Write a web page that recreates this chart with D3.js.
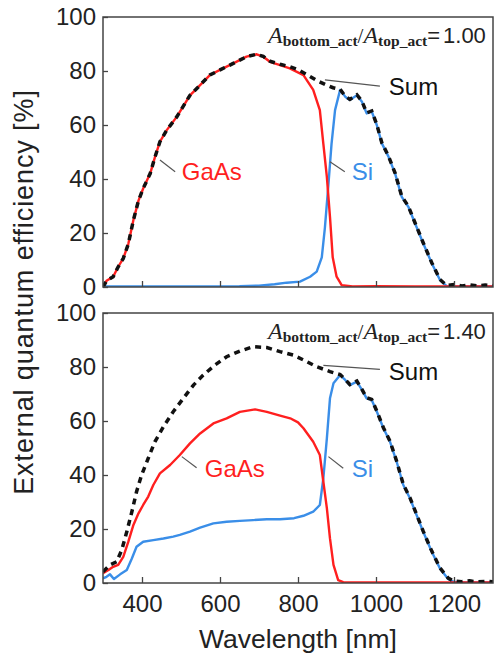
<!DOCTYPE html>
<html>
<head>
<meta charset="utf-8">
<script src="https://cdn.jsdelivr.net/npm/d3@7"></script>
<style>
  body { margin: 0; background: #fff; }
  svg { display: block; font-family: "Liberation Sans", Arial, sans-serif; }
</style>
</head>
<body>
<div id="chart"></div>
<script>
const width = 498, height = 658;
const margin = { left: 103, right: 5 };
const panelTop = [17, 313], panelHeight = 270;

const wavelengthDomain = [300, 1300];
const eqeDomain = [0, 100];
const wavelengthTicks = [400, 600, 800, 1000, 1200];
const eqeTicks = [0, 20, 40, 60, 80, 100];
const areaRatios = ["1.00", "1.40"];

// [wavelength nm, EQE %]
const gaasTop = [[300,0],[309,2.3],[326,3.8],[339,7.5],[352,10.6],[365,16],[378,24.8],[391,32],[403,36.5],[421,42],[433,48],[446,53.8],[463,58],[489,63],[523,71],[549,74.8],[574,78.5],[600,80.4],[634,82.8],[668,85.3],[694,86.2],[711,85.3],[728,83.4],[754,82.2],[779,81],[814,78.5],[839,73],[856,65.5],[865,53],[874,40.8],[882,26],[889,11],[899,3.8],[912,0.7],[940,0.2],[1000,0.3],[1100,0.2],[1300,0.2]];
const siTop = [[300,0.2],[500,0.2],[650,0.3],[700,0.5],[740,1],[771,1.6],[805,2],[831,3.8],[848,5.7],[861,11],[869,22],[878,38],[886,53],[895,65.5],[908,73],[921,70.5],[933,69.3],[951,71],[964,68.6],[976,64.3],[989,65],[1002,60],[1015,53.2],[1032,48.3],[1049,42],[1066,33.4],[1083,29.7],[1100,23.6],[1121,16.2],[1143,8.8],[1164,2.6],[1181,0.3],[1220,0.2],[1300,0.2]];
const sumTop = [[300,0],[309,2.3],[326,3.8],[339,7.5],[352,10.6],[365,16],[378,24.8],[391,32],[403,36.5],[421,42],[433,48],[446,53.8],[463,58],[489,63],[523,71],[549,74.8],[574,78.5],[600,80.4],[634,82.8],[668,85.3],[694,86.2],[711,85.4],[728,83.6],[754,82.5],[779,81.6],[800,80.5],[825,78.5],[848,76.5],[870,75],[890,73.8],[908,73.2],[921,70.7],[933,69.5],[951,71.2],[964,68.8],[976,64.5],[989,65.2],[1002,60.2],[1015,53.4],[1032,48.5],[1049,42.2],[1066,33.6],[1083,29.9],[1100,23.8],[1121,16.4],[1143,9],[1164,2.8],[1181,0.6],[1200,0.9],[1220,0.4],[1240,0.8],[1260,0.4],[1280,0.7],[1300,0.5]];

const gaasBottom = [[300,3.6],[314,4.8],[326,6],[339,6.7],[352,9.7],[365,15.3],[378,21.5],[391,25.8],[403,28.9],[416,32],[429,36.3],[446,40.6],[472,43.7],[497,47.4],[523,51.7],[549,55.4],[583,59.1],[617,61],[651,63.4],[690,64.3],[720,63.4],[754,62],[780,61],[800,59.5],[814,57.3],[839,52.3],[856,47.4],[865,37.5],[874,27.7],[882,16.5],[891,6.7],[903,1.1],[916,0.3],[1000,0.2],[1300,0.2]];
const siBottom = [[300,1.7],[309,2.3],[318,3.2],[328,1.5],[344,3.2],[361,4.8],[374,9.1],[386,13.4],[403,15.3],[429,15.9],[455,16.5],[480,17.2],[497,17.8],[523,19],[549,20.5],[583,22.1],[617,22.7],[651,23],[685,23.3],[720,23.6],[754,23.6],[790,24],[814,24.9],[839,26.4],[856,28.9],[865,38.8],[874,53.6],[882,68.4],[891,74],[908,77],[921,75.2],[933,73.3],[951,74.6],[964,71.5],[976,68.4],[989,67.8],[1002,63.5],[1019,57.3],[1036,52.3],[1053,44.9],[1070,36.3],[1087,31.4],[1104,25.2],[1121,19],[1143,11.6],[1164,5.4],[1185,1.5],[1198,0.5],[1220,0.2],[1300,0.2]];
const sumBottom = [[300,4.2],[318,6.7],[335,7.9],[348,12.2],[361,19],[374,26.4],[386,33.8],[399,40],[416,46.2],[433,52.3],[455,57.9],[480,63.4],[506,68.4],[532,73.3],[557,77],[587,80.7],[617,83.8],[651,85.9],[685,87.5],[720,87.2],[754,85.7],[788,84.4],[814,82.6],[848,80.1],[882,78.3],[908,77.2],[921,75.4],[933,73.5],[951,74.8],[964,71.7],[976,68.6],[989,68],[1002,63.7],[1019,57.5],[1036,52.5],[1053,45.1],[1070,36.5],[1087,31.6],[1104,25.4],[1121,19.2],[1143,11.8],[1164,5.6],[1185,1.8],[1198,0.8],[1220,0.5],[1240,0.8],[1260,0.4],[1280,0.6],[1300,0.5]];

const red = "#ff1f1f", blue = "#3a8ee8", frame = "#444";

// label text, colour, text anchor and leader line, all in data units
const panels = [
  { gaas: gaasTop, si: siTop, sum: sumTop, ratio: areaRatios[0],
    labels: [
      { text: "GaAs", color: red, at: [502, 39.6], leader: [[446, 47], [485, 42.7]] },
      { text: "Si", color: blue, at: [938, 39.6], leader: [[882, 46.4], [920, 42.7]] },
      { text: "Sum", color: "#111", at: [1033, 71.1], leader: [[869, 76.7], [1010, 74.4]] }
    ] },
  { gaas: gaasBottom, si: siBottom, sum: sumBottom, ratio: areaRatios[1],
    labels: [
      { text: "GaAs", color: red, at: [561, 39.3], leader: [[502, 46.8], [540, 42.7]] },
      { text: "Si", color: blue, at: [938, 39.3], leader: [[878, 46.8], [916, 42.5]] },
      { text: "Sum", color: "#111", at: [1033, 75.2], leader: [[865, 80.6], [1010, 79.1]] }
    ] }
];

const svg = d3.select("#chart").append("svg")
  .attr("width", width)
  .attr("height", height);

const x = d3.scaleLinear().domain(wavelengthDomain).range([margin.left, width - margin.right]);

panels.forEach((p, i) => {
  const top = panelTop[i];
  const y = d3.scaleLinear().domain(eqeDomain).range([top + panelHeight, top]);
  const g = svg.append("g");

  g.append("clipPath").attr("id", "clip" + i)
    .append("rect")
    .attr("x", x.range()[0]).attr("y", top)
    .attr("width", x.range()[1] - x.range()[0]).attr("height", panelHeight);

  const line = d3.line().x(d => x(d[0])).y(d => y(d[1]));
  const curves = g.append("g").attr("clip-path", `url(#clip${i})`);

  curves.append("path").datum(p.si)
    .attr("d", line).attr("fill", "none")
    .attr("stroke", blue).attr("stroke-width", 2.4).attr("stroke-linejoin", "round");
  curves.append("path").datum(p.gaas)
    .attr("d", line).attr("fill", "none")
    .attr("stroke", red).attr("stroke-width", 2.4).attr("stroke-linejoin", "round");
  curves.append("path").datum(p.sum)
    .attr("d", line).attr("fill", "none")
    .attr("stroke", "#111").attr("stroke-width", 3.5)
    .attr("stroke-dasharray", "6,5");

  // ticks point inward
  const yAxis = g.append("g")
    .attr("transform", `translate(${x.range()[0]},0)`)
    .call(d3.axisLeft(y).tickValues(eqeTicks).tickSizeInner(-5).tickSizeOuter(0).tickPadding(7));
  const xAxis = g.append("g")
    .attr("transform", `translate(0,${top + panelHeight})`)
    .call(d3.axisBottom(x).tickValues(wavelengthTicks).tickFormat(d3.format("d"))
      .tickSizeInner(-6).tickSizeOuter(0).tickPadding(12));
  if (i === 0) xAxis.selectAll("text").remove();

  [xAxis, yAxis].forEach(a => {
    a.select(".domain").remove();
    a.selectAll("line").attr("stroke", frame).attr("stroke-width", 1.3);
    a.selectAll("text").attr("font-size", 24).attr("fill", "#222")
      .attr("font-family", "Liberation Sans, Arial, sans-serif");
  });

  g.append("rect")
    .attr("x", x.range()[0]).attr("y", top)
    .attr("width", x.range()[1] - x.range()[0]).attr("height", panelHeight)
    .attr("fill", "none").attr("stroke", frame).attr("stroke-width", 1.5);

  // area ratio note
  const note = g.append("text")
    .attr("x", 268).attr("y", top + 26)
    .attr("fill", "#222");
  note.append("tspan").text("A")
    .attr("font-family", "Liberation Serif, serif").attr("font-style", "italic").attr("font-size", 24);
  note.append("tspan").text("bottom_act").attr("dy", 3)
    .attr("font-family", "Liberation Serif, serif").attr("font-weight", "bold").attr("font-size", 15.5);
  note.append("tspan").text("/").attr("dy", -3)
    .attr("font-family", "Liberation Serif, serif").attr("font-size", 21);
  note.append("tspan").text("A")
    .attr("font-family", "Liberation Serif, serif").attr("font-style", "italic").attr("font-size", 24);
  note.append("tspan").text("top_act").attr("dy", 3)
    .attr("font-family", "Liberation Serif, serif").attr("font-weight", "bold").attr("font-size", 15.5);
  note.append("tspan").text("=").attr("dy", -3).attr("font-size", 22);
  note.append("tspan").text(p.ratio).attr("dx", 3).attr("font-size", 22);

  p.labels.forEach(l => {
    g.append("line")
      .attr("x1", x(l.leader[0][0])).attr("y1", y(l.leader[0][1]))
      .attr("x2", x(l.leader[1][0])).attr("y2", y(l.leader[1][1]))
      .attr("stroke", "#555").attr("stroke-width", 1.2);
    g.append("text")
      .attr("x", x(l.at[0])).attr("y", y(l.at[1]))
      .attr("font-size", 24).attr("fill", l.color)
      .text(l.text);
  });
});

svg.append("text")
  .attr("x", (x.range()[0] + x.range()[1]) / 2).attr("y", 648)
  .attr("text-anchor", "middle").attr("font-size", 26.5).attr("fill", "#222")
  .text("Wavelength [nm]");

svg.append("text")
  .attr("transform", "translate(33,292) rotate(-90)")
  .attr("text-anchor", "middle").attr("font-size", 27).attr("letter-spacing", 0.9).attr("fill", "#222")
  .text("External quantum efficiency [%]");
</script>
</body>
</html>
